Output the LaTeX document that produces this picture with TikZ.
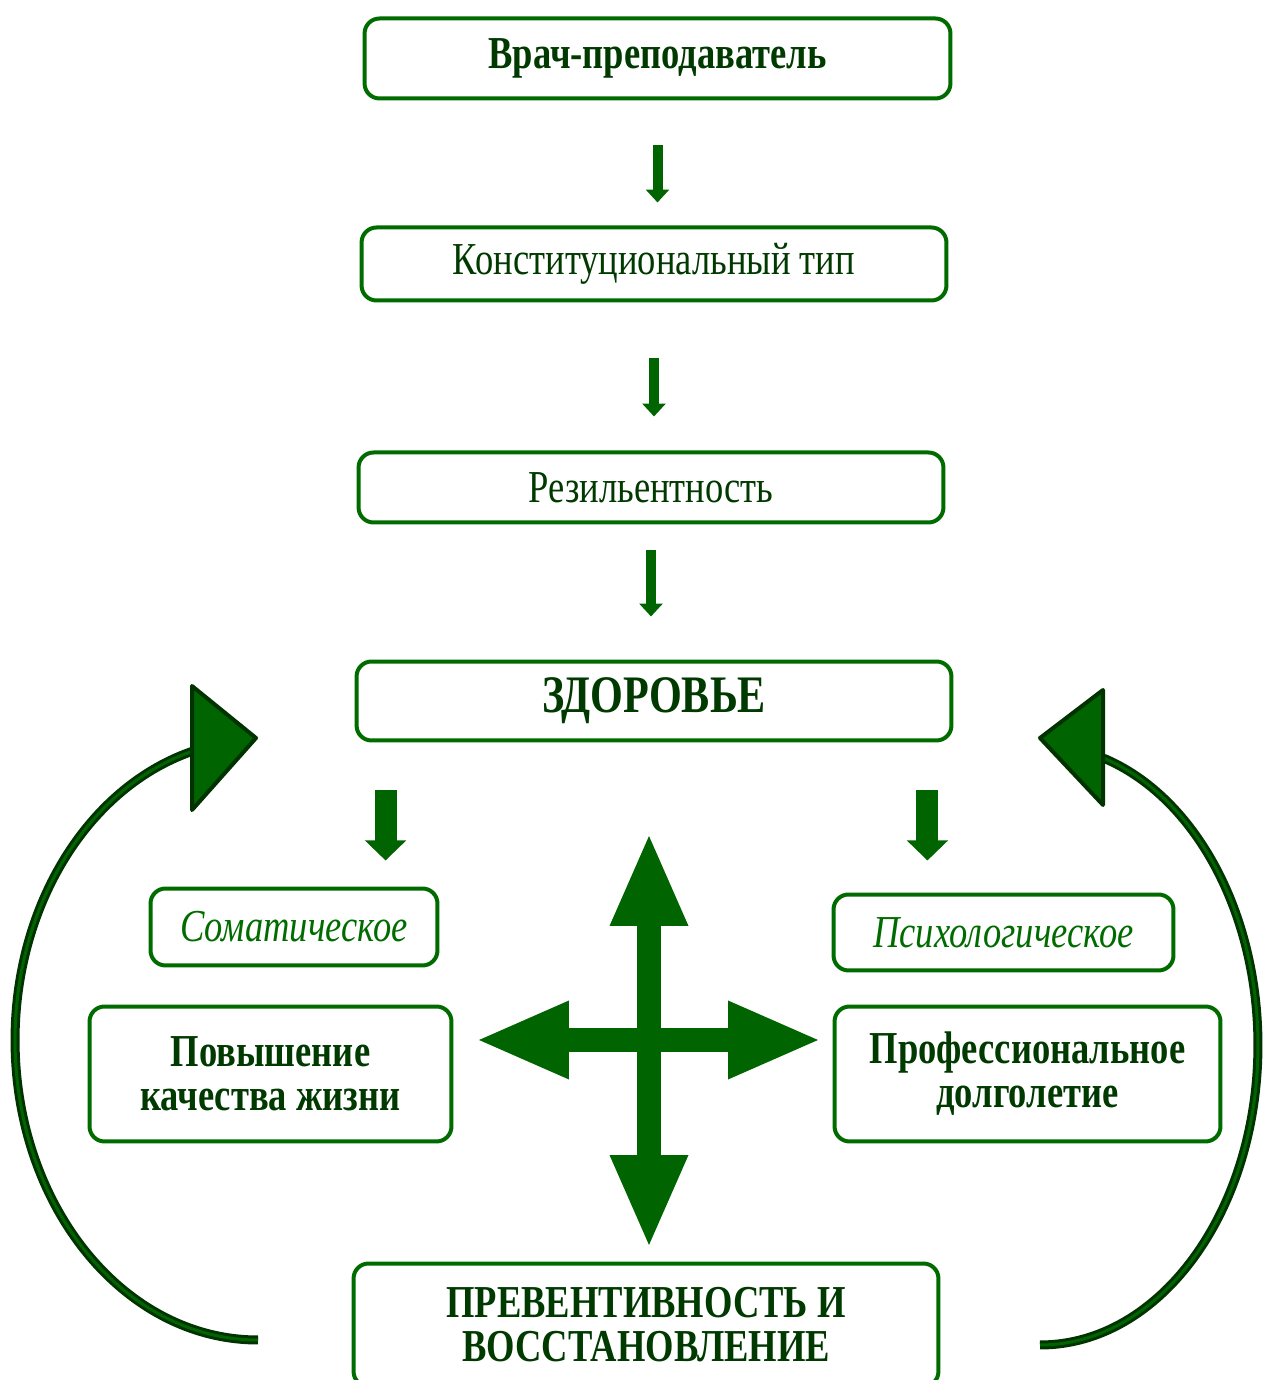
\documentclass[tikz,border=0pt]{standalone}
\usepackage{fontspec}
\setmainfont{Liberation Serif}[FakeStretch=0.8]
\usetikzlibrary{arrows.meta,calc}
\definecolor{boxgreen}{RGB}{0,108,0}
\definecolor{darkgreen}{RGB}{0,58,0}
\definecolor{arrowgreen}{RGB}{0,100,0}
\definecolor{rimgreen}{RGB}{0,51,0}
\tikzset{
  box/.style={draw=boxgreen, line width=0.08cm, rounded corners=0.3cm, fill=white, align=center, text=darkgreen, inner sep=0pt, font=\fontsize{26}{25}\selectfont},
  boldbox/.style={box, font=\bfseries\fontsize{26}{25}\selectfont},
  italbox/.style={box, text=boxgreen, font=\itshape\fontsize{26}{25}\selectfont},
  thinarrow/.style={arrowgreen, line width=0.2cm, -{Triangle[length=0.26cm,width=0.46cm]}},
  fatarrow/.style={arrowgreen, line width=0.44cm, -{Triangle[length=0.4cm,width=0.8cm]}},
  crossarrow/.style={arrowgreen, line width=0.48cm, {Triangle[length=1.88cm,width=1.42cm]}-{Triangle[length=1.88cm,width=1.42cm]}},
  cyclearc/.style={draw=rimgreen, double=arrowgreen, line width=0.06cm, double distance=0.06cm},
  cyclehead/.style={fill=arrowgreen, draw=rimgreen, line width=0.08cm, line join=round}
}
\begin{document}
\begin{tikzpicture}[x=0.02cm,y=0.02cm]
\useasboundingbox (0,0) rectangle (1266,1380);
% chain on top
\node[boldbox, minimum width=11.72cm, minimum height=1.6cm] (vrach) at (657.5,1321.5) {Врач-преподаватель};
\node[box, minimum width=11.7cm, minimum height=1.46cm] (konst) at (654,1116) {Конституциональный тип};
\node[box, minimum width=11.7cm, minimum height=1.4cm] (rezil) at (651,892.5) {Резильентность};
\node[boldbox, minimum width=11.9cm, minimum height=1.58cm, font=\bfseries\fontsize{30}{30}\selectfont] (zdor) at (654,679) {ЗДОРОВЬЕ};
\draw[thinarrow, shorten <=0.9cm, shorten >=0.46cm] (vrach.south) -- (vrach.south |- konst.north);
\draw[thinarrow, shorten <=1.12cm, shorten >=0.68cm] (konst.south) -- (konst.south |- rezil.north);
\draw[thinarrow, shorten <=0.52cm, shorten >=0.86cm] (rezil.south) -- (rezil.south |- zdor.north);
% two sides
\node[italbox, minimum width=5.74cm, minimum height=1.54cm] (somat) at (294,453) {Соматическое};
\node[italbox, minimum width=6.8cm, minimum height=1.52cm] (psych) at (1003.5,447.5) {Психологическое};
\node[boldbox, minimum width=7.24cm, minimum height=2.7cm] (povysh) at (270.5,306) {Повышение\\качества жизни};
\node[boldbox, minimum width=7.72cm, minimum height=2.7cm] (prof) at (1027.5,306) {Профессиональное\\долголетие};
\node[boldbox, minimum width=11.7cm, minimum height=2.46cm] (prev) at (646,55) {ПРЕВЕНТИВНОСТЬ И\\ВОССТАНОВЛЕНИЕ};
\draw[fatarrow] ($(zdor.south west)+(31,-48)$) -- ++(0,-70);
\draw[fatarrow] ($(zdor.south east)+(-26,-48)$) -- ++(0,-70);
% cross
\coordinate (cross) at (649,340);
\draw[crossarrow] ($(cross)+(0,208)$) -- ($(cross)+(0,-209)$);
\draw[crossarrow] ($(cross)+(-174,0)$) -- ($(cross)+(173,0)$);
% loops back to health
\draw[cyclearc] (258,40) arc[start angle=270, end angle=105, x radius=4.86cm, y radius=6cm];
\draw[cyclehead] (192,694) -- (256,642) -- (192,570) -- cycle;
\draw[cyclearc] (1040,35) arc[start angle=-90, end angle=73, x radius=4.36cm, y radius=6cm];
\draw[cyclehead] (1103,690) -- (1040,642) -- (1103,575) -- cycle;
\end{tikzpicture}
\end{document}
